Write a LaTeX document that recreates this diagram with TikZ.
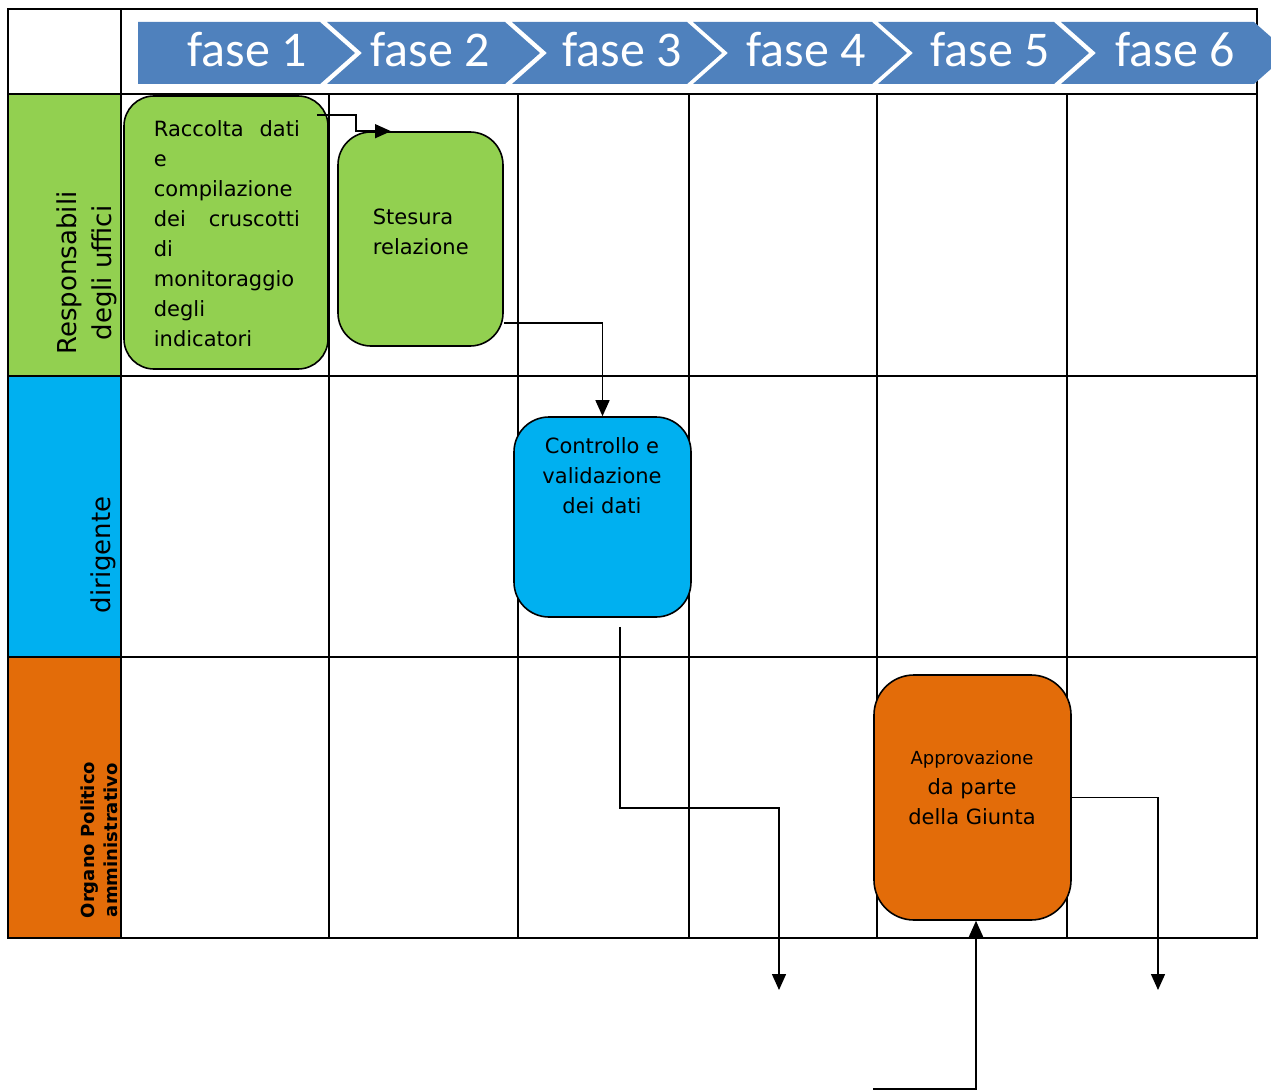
\documentclass[tikz,border=0pt]{standalone}
\usepackage{fontspec}
\setmainfont{DejaVu Sans}
\newfontfamily\fasefont{Carlito}
\usetikzlibrary{arrows.meta,calc}

\definecolor{lanegreen}{HTML}{92D050}
\definecolor{laneblue}{HTML}{00B0F0}
\definecolor{laneorange}{HTML}{E36C09}
\definecolor{faseblue}{HTML}{4F81BD}

\begin{document}
\begin{tikzpicture}[x=1pt, y=-1pt, line width=1.8pt,
		task/.style={draw=black, line width=1.6pt, inner sep=0pt},
		tasktext/.style={inner sep=0pt, font=\fontsize{21}{30}\selectfont},
		lanetext/.style={rotate=90, align=center, inner sep=0pt},
		fasetext/.style={anchor=base, inner sep=0pt, text=white, font=\fasefont\fontsize{50}{54}\selectfont},
		flow/.style={line width=1.5pt, -{Triangle[width=14pt,length=16pt]}}]
		\useasboundingbox (0,0) rectangle (1271,1091);
		
		% swimlanes
		\fill[lanegreen] (8,94) rectangle (121,376);
		\fill[laneblue] (8,376) rectangle (121,657);
		\fill[laneorange] (8,657) rectangle (121,938);
		\draw (8,9) rectangle (1257,938);
		\draw (121,9) -- (121,938);
		\foreach \y in {94, 376, 657} \draw (8,\y) -- (1257,\y);
		\foreach \x in {329, 518, 689, 877, 1067} \draw (\x,94) -- (\x,938);
		
		\node[lanetext, font=\fontsize{26}{35}\selectfont] (resp) at (87,273) {Responsabili\\degli uffici};
		\node[lanetext, font=\fontsize{26}{35}\selectfont] (dir) at (103,555) {dirigente};
		\node[lanetext, font=\bfseries\fontsize{18}{23}\selectfont] (org) at (99,840) {Organo Politico\\amministrativo};
		
		% phases
		\fill[faseblue] (138,22) -- (320,22) -- (355,53) -- (320,84) -- (138,84) -- cycle;
		\foreach \l/\r in {327/505, 512/687, 693/872, 878/1054, 1061/1254}
			\fill[faseblue] (\l,22) -- (\r,22) -- (\r+35,53) -- (\r,84) -- (\l,84) -- (\l+35,53) -- cycle;
		\foreach \cx [count=\k] in {247, 430, 622, 806, 990, 1175}
			\node[fasetext] (fase\k) at (\cx,67) {fase \k};
		
		% tasks
		\node[task, fill=lanegreen, rounded corners=30pt, minimum width=204, minimum height=273] (racc) at (226,232.5) {};
		\node[task, fill=lanegreen, rounded corners=33pt, minimum width=165, minimum height=214] (stes) at (420.5,239) {};
		\node[task, fill=laneblue, rounded corners=35pt, minimum width=177, minimum height=200] (ctrl) at (602.5,517) {};
		\node[task, fill=laneorange, rounded corners=40pt, minimum width=197, minimum height=245] (appr) at (972.5,797.5) {};
		
		\node[tasktext, anchor=north west, text width=146, align=left] (racctxt) at (153,120)
			{\makebox[146pt]{Raccolta\hfill dati}\\e\\compilazione\\\makebox[146pt]{dei\hfill cruscotti}\\di\\monitoraggio\\degli\\indicatori};
		\node[tasktext, anchor=north west, align=left] (stestxt) at (372,208) {Stesura\\relazione};
		\node[tasktext, anchor=north, align=center] (ctrltxt) at (602,437) {Controllo e\\validazione\\dei dati};
		\node[tasktext, anchor=north, align=center] (apprtxt) at (972,750)
			{{\fontsize{18}{24}\selectfont Approvazione}\\da parte\\della Giunta};
		
		% connectors
		\coordinate (raccout) at ($(racc.north east)+(-12,20)$);
		\coordinate (ctrlout) at ([xshift=17.5pt, yshift=-9pt]ctrl.south);
		\coordinate (out1) at (779,990);
		\coordinate (out2) at (1158,990);
		\coordinate (in1) at (873,1089);
		\draw[flow] (raccout) -- ++(39,0) |- ([xshift=-29.5pt]stes.north);
		\draw[flow] ([yshift=-84pt]stes.east) -| (ctrl.north);
		\draw[flow] (ctrlout) -- ++(0,181) -| (out1);
		\draw[flow] (appr.east) -| (out2);
		\draw[flow] (in1) -| ([xshift=3.5pt]appr.south);
\end{tikzpicture}
\end{document}
